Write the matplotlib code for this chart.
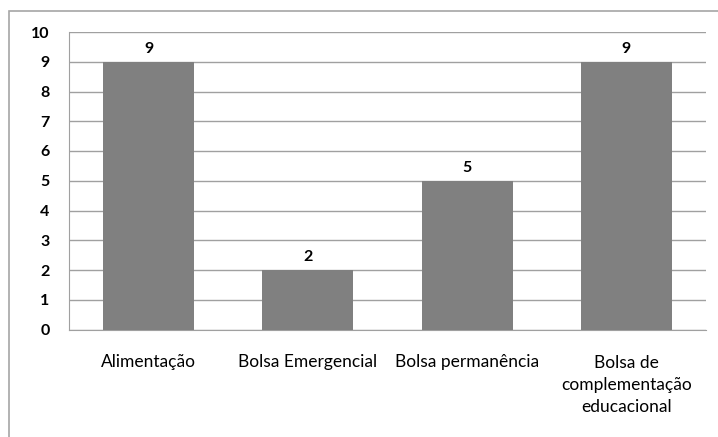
import matplotlib
matplotlib.use("Agg")
import matplotlib.pyplot as plt
from matplotlib.patches import Rectangle

categories = ["Alimentação", "Bolsa Emergencial", "Bolsa permanência",
              "Bolsa de\ncomplementação\neducacional"]
values = [9, 2, 5, 9]
yticks = list(range(0, 11))

plt.rcParams["font.family"] = ["Lato", "DejaVu Sans"]

W, H = 718, 437
fig = plt.figure(figsize=(W / 100, H / 100), dpi=100)
fig.patch.set_facecolor("white")

# outer chart frame (cropped on right and bottom in the reference)
fig.patches.append(Rectangle((9 / W, -0.05), 1.05, 1 - 11 / H + 0.05,
                             transform=fig.transFigure, fill=False,
                             edgecolor="#a6a6a6", linewidth=1.2))

left, right, top, bottom = 69, 706, 32, 329.5
ax = fig.add_axes([left / W, 1 - bottom / H, (right - left) / W, (bottom - top) / H])

x = range(len(categories))
bars = ax.bar(x, values, width=0.57, color="#808080", zorder=3)
for b, v in zip(bars, values):
    ax.text(b.get_x() + b.get_width() / 2, v + 0.2, str(v), ha="center",
            va="bottom", fontsize=11.5, fontweight="bold", color="black")

ax.set_xlim(-0.5, len(categories) - 0.5)
ax.set_ylim(0, 10)
ax.set_yticks(yticks)
ax.set_yticklabels([str(t) for t in yticks], fontsize=11.5, fontweight="bold")
ax.set_xticks(list(x))
ax.set_xticklabels(categories, fontsize=12.5, linespacing=1.5, va="top")
ax.tick_params(axis="y", length=0, pad=14)
ax.tick_params(axis="x", length=0, pad=18)

ax.grid(axis="y", color="#a0a0a0", linewidth=1, zorder=0)
for s in ["top", "right"]:
    ax.spines[s].set_visible(False)
ax.spines["left"].set_color("#a0a0a0")
ax.spines["bottom"].set_color("#a0a0a0")

fig.savefig("out.png", dpi=100)
